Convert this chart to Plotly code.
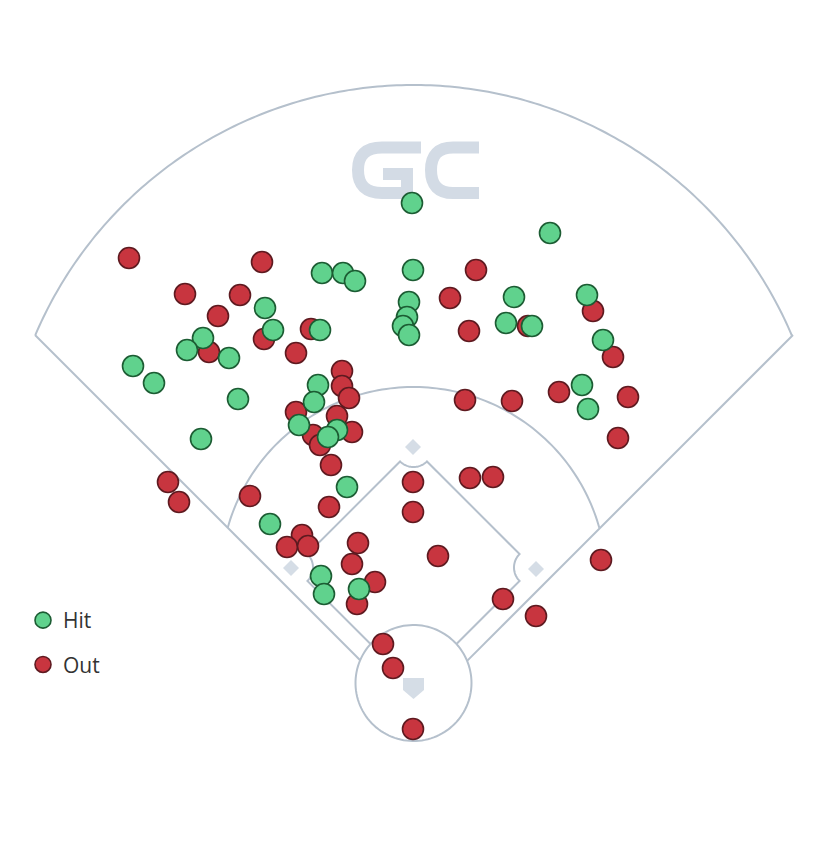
import numpy as np
import plotly.graph_objects as go

# ---------------- data (spray-chart coordinates, field frame) ----------------
hit_x = [412, 550, 322, 343, 355, 413, 409, 407, 403, 409, 514, 587, 506, 532,
         603, 582, 588, 265, 273, 320, 203, 187, 229, 133, 154, 238, 201, 318,
         314, 299, 337, 328, 347, 270, 321, 324, 359]
hit_y = [203, 233, 273, 273, 281, 270, 302, 317, 326, 335, 297, 295, 323, 326,
         340, 385, 409, 308, 330, 330, 338, 350, 358, 366, 383, 399, 439, 385,
         402, 425, 430, 437, 487, 524, 576, 594, 589]

out_x = [129, 262, 476, 185, 240, 218, 450, 469, 528, 311, 264, 209, 296, 593,
         613, 342, 342, 349, 465, 512, 559, 628, 618, 296, 337, 313, 352, 320,
         331, 168, 179, 250, 329, 413, 413, 470, 493, 302, 287, 308, 358, 352,
         438, 375, 357, 503, 601, 536, 383, 393, 413]
out_y = [258, 262, 270, 294, 295, 316, 298, 331, 326, 329, 339, 352, 353, 311,
         357, 371, 386, 398, 400, 401, 392, 397, 438, 412, 416, 435, 432, 445,
         465, 482, 502, 496, 507, 482, 512, 478, 477, 535, 547, 546, 543, 564,
         556, 582, 604, 599, 560, 616, 644, 668, 729]

labels = ["Hit", "Out"]

# ---------------- field geometry helpers ----------------
W, H = 828, 865
AX = 413.5
LINE = "#b5c0cc"
LIGHT = "#d5dde6"


def arc(cx, cy, r, a0, a1, n=90):
    t = np.radians(np.linspace(a0, a1, n))
    return list(zip(cx + r * np.cos(t), cy + r * np.sin(t)))


def path_of(pts, close=False):
    s = "M " + " L ".join(f"{x:.2f},{y:.2f}" for x, y in pts)
    return s + (" Z" if close else "")


shapes = []


def add_path(pts, close=False, color=LINE, width=2, fill=None):
    shp = dict(type="path", path=path_of(pts, close), layer="below",
               line=dict(color=color, width=width))
    if fill:
        shp["fillcolor"] = fill
        shp["line"] = dict(width=0)
    shapes.append(shp)


# outfield wall
OF_C, OF_R = (AX, 496.0), 411.0
a_left = np.degrees(np.arctan2(335 - OF_C[1], 35 - OF_C[0]))
a_right = np.degrees(np.arctan2(335 - OF_C[1], 793 - OF_C[0]))
if a_left < 0:
    a_left += 360
add_path(arc(OF_C[0], OF_C[1], OF_R, a_left, 360 + a_right, 200))

# home circle
HC, HR = (AX, 683.0), 58.0
add_path(arc(HC[0], HC[1], HR, 0, 360, 120), close=True)


def line_circle(p, d, c, r):
    px, py = p[0] - c[0], p[1] - c[1]
    b = px * d[0] + py * d[1]
    cc = px * px + py * py - r * r
    disc = np.sqrt(b * b - cc)
    return sorted([-b - disc, -b + disc])


# foul lines: from outfield corners toward home, stopping at home circle
s2 = 1 / np.sqrt(2)
for corner, d in [((35.0, 335.0), (s2, s2)), ((793.0, 335.0), (-s2, s2))]:
    t = line_circle(corner, d, HC, HR)[0]
    add_path([corner, (corner[0] + t * d[0], corner[1] + t * d[1])])

# infield grass arc (between foul lines)
IA_C, IA_R = (AX, 580.0), 193.0
tl = line_circle((35.0, 335.0), (s2, s2), IA_C, IA_R)[0]
pl = (35 + tl * s2, 335 + tl * s2)
a0 = np.degrees(np.arctan2(pl[1] - IA_C[1], pl[0] - IA_C[0])) + 360
add_path(arc(IA_C[0], IA_C[1], IA_R, a0, 540 - a0, 120))

# infield grass diamond with base cut-outs
home_v = (AX, 687.0)
first_v = (533.0, 567.5)
second_v = (AX, 448.0)
third_v = (294.0, 567.5)
NR = 19.0
tH = line_circle(home_v, (-s2, -s2), HC, HR)[1]
start = (home_v[0] - tH * s2, home_v[1] - tH * s2)
tH2 = line_circle(home_v, (s2, -s2), HC, HR)[1]
end = (home_v[0] + tH2 * s2, home_v[1] - tH2 * s2)
pts = [start]
pts += arc(third_v[0], third_v[1], NR, 45, -45, 30)
pts += arc(second_v[0], second_v[1], NR, 135, 45, 30)
pts += arc(first_v[0], first_v[1], NR, 225, 135, 30)
pts.append(end)
add_path(pts)

# bases
for bx, by in [(413.0, 447.0), (536.0, 569.0), (291.0, 568.0)]:
    add_path([(bx, by - 8), (bx + 8, by), (bx, by + 8), (bx - 8, by)],
             close=True, fill=LIGHT)
# home plate
add_path([(403, 678), (424, 678), (424, 690), (413.5, 699), (403, 690)],
         close=True, fill=LIGHT)

# GC watermark logo
LOGO = "#d3dbe5"
shapes.append(dict(type="path", layer="below", line=dict(color=LOGO, width=12),
                   path="M 421,147.5 L 382,147.5 Q 358,147.5 358,170 "
                        "Q 358,193 382,193 L 407,193 L 407,174 L 383,174"))
shapes.append(dict(type="path", layer="below", line=dict(color=LOGO, width=12),
                   path="M 479,147.5 L 453,147.5 Q 431,147.5 431,170 "
                        "Q 431,193 453,193 L 479,193"))

# ---------------- figure ----------------
fig = go.Figure()
fig.add_trace(go.Scatter(
    x=out_x, y=out_y, mode="markers", name=labels[1], legendrank=2,
    legendgroup="o",
    marker=dict(size=21, color="#c8353f", line=dict(color="#5e1a20", width=1.6)),
    hoverinfo="skip"))
fig.add_trace(go.Scatter(
    x=hit_x, y=hit_y, mode="markers", name=labels[0], legendrank=1,
    legendgroup="h",
    marker=dict(size=21, color="#60d28d", line=dict(color="#1c5c33", width=1.6)),
    hoverinfo="skip"))

fig.update_layout(
    width=W, height=H,
    margin=dict(l=0, r=0, t=0, b=0),
    paper_bgcolor="white", plot_bgcolor="white",
    xaxis=dict(range=[0, W], visible=False, fixedrange=True),
    yaxis=dict(range=[H, 0], visible=False, fixedrange=True),
    shapes=shapes,
    showlegend=True,
    legend=dict(x=23 / W, y=1 - 600 / H, xanchor="left", yanchor="top",
                font=dict(family="Open Sans, sans-serif", size=21, color="#333333"),
                tracegroupgap=14, bgcolor="rgba(0,0,0,0)"),
)

fig.write_html("out.html",
               config={"displayModeBar": False, "staticPlot": True},
               post_script="document.body.style.margin='0';"
                           "document.body.style.overflow='hidden';")
